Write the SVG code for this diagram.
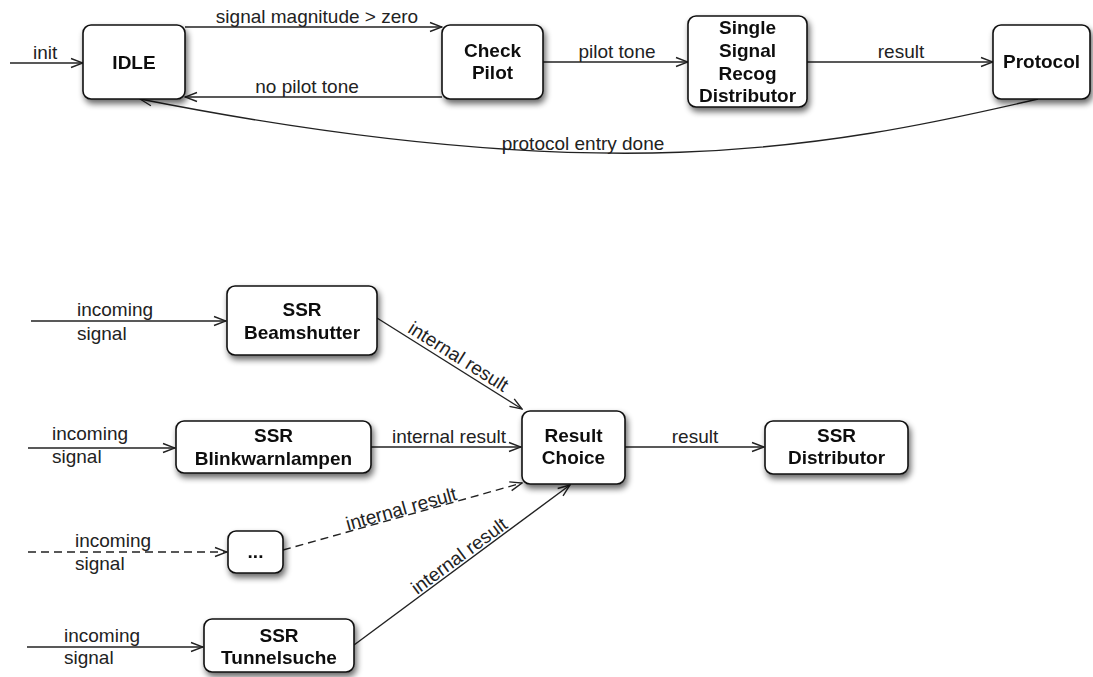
<svg xmlns="http://www.w3.org/2000/svg" width="1093" height="677" viewBox="0 0 1093 677">
<defs>
<filter id="sh" x="-20%" y="-20%" width="150%" height="160%">
<feGaussianBlur in="SourceAlpha" stdDeviation="3"/>
<feOffset dx="2" dy="4" result="b"/>
<feComponentTransfer><feFuncA type="linear" slope="0.6"/></feComponentTransfer>
<feMerge><feMergeNode/><feMergeNode in="SourceGraphic"/></feMerge>
</filter>
<marker id="arr" markerUnits="userSpaceOnUse" markerWidth="14" markerHeight="12" viewBox="0 0 14 12" refX="13" refY="6" orient="auto">
<path d="M1,1.5 L13,6 L1,10.5" fill="none" stroke="#222" stroke-width="1.4"/>
</marker>
<style>
.box{fill:#fff;stroke:#111;stroke-width:1.6}
.nt{font-family:"Liberation Sans",Arial,sans-serif;font-size:19px;font-weight:bold;fill:#111;text-anchor:middle}
.lb{font-family:"Liberation Sans",Arial,sans-serif;font-size:19px;fill:#222}
.c{fill:none;stroke:#222;stroke-width:1.4;marker-end:url(#arr)}
.d{stroke-dasharray:8,5}
</style>
</defs>
<g id="connectors">
<path class="c" d="M10,63 L83,63"/>
<text class="lb" x="33" y="59">init</text>
<path class="c" d="M185,27 L442,27"/>
<text class="lb" x="317" y="23" text-anchor="middle">signal magnitude &gt; zero</text>
<path class="c" d="M442,97 L185,97"/>
<text class="lb" x="307" y="93" text-anchor="middle">no pilot tone</text>
<path class="c" d="M543,62 L688,62"/>
<text class="lb" x="617" y="58" text-anchor="middle">pilot tone</text>
<path class="c" d="M807,62 L993,62"/>
<text class="lb" x="901" y="58" text-anchor="middle">result</text>
<path class="c" d="M1038,99 C820,150 600,190 140,99"/>
<text class="lb" x="583" y="150" text-anchor="middle">protocol entry done</text>

<path class="c" d="M31,321 L226,321"/>
<text class="lb" x="77" y="316">incoming</text>
<text class="lb" x="77" y="340">signal</text>
<path class="c" d="M28,448 L175,448"/>
<text class="lb" x="52" y="440">incoming</text>
<text class="lb" x="52" y="463">signal</text>
<path class="c d" d="M28,552 L227,552"/>
<text class="lb" x="75" y="547">incoming</text>
<text class="lb" x="75" y="570">signal</text>
<path class="c" d="M27,647 L203,647"/>
<text class="lb" x="64" y="642">incoming</text>
<text class="lb" x="64" y="664">signal</text>

<path class="c" d="M377,318 L522,409"/>
<text class="lb" text-anchor="middle" transform="translate(455,362) rotate(32.1)">internal result</text>
<path class="c" d="M371,447 L521,447"/>
<text class="lb" x="449" y="443" text-anchor="middle">internal result</text>
<path class="c d" d="M283,550 L522,483"/>
<text class="lb" text-anchor="middle" transform="translate(403,515) rotate(-15.7)">internal result</text>
<path class="c" d="M354,645 L570,485"/>
<text class="lb" text-anchor="middle" transform="translate(463,561) rotate(-36.5)">internal result</text>
<path class="c" d="M625,447 L764,447"/>
<text class="lb" x="695" y="443" text-anchor="middle">result</text>
</g>
<g id="idle" filter="url(#sh)"><rect class="box" x="83" y="25" width="102" height="74" rx="8"/><text class="nt" x="134" y="69">IDLE</text></g>
<g id="checkpilot" filter="url(#sh)"><rect class="box" x="442" y="25" width="101" height="74" rx="8"/><text class="nt" x="492.5" y="57">Check</text><text class="nt" x="492.5" y="79">Pilot</text></g>
<g id="ssrd" filter="url(#sh)"><rect class="box" x="688" y="16" width="119" height="91" rx="8"/><text class="nt" x="747.5" y="34">Single</text><text class="nt" x="747.5" y="57">Signal</text><text class="nt" x="747.5" y="80">Recog</text><text class="nt" x="747.5" y="102">Distributor</text></g>
<g id="protocol" filter="url(#sh)"><rect class="box" x="993" y="25" width="97" height="74" rx="8"/><text class="nt" x="1041.5" y="68">Protocol</text></g>
<g id="beamshutter" filter="url(#sh)"><rect class="box" x="227" y="286" width="150" height="69" rx="8"/><text class="nt" x="302" y="316">SSR</text><text class="nt" x="302" y="339">Beamshutter</text></g>
<g id="blink" filter="url(#sh)"><rect class="box" x="176" y="421" width="195" height="52" rx="8"/><text class="nt" x="273.5" y="442">SSR</text><text class="nt" x="273.5" y="465">Blinkwarnlampen</text></g>
<g id="dots" filter="url(#sh)"><rect class="box" x="228" y="531" width="55" height="42" rx="8"/><text class="nt" x="255.5" y="558">...</text></g>
<g id="tunnel" filter="url(#sh)"><rect class="box" x="204" y="619" width="150" height="53" rx="8"/><text class="nt" x="279" y="642">SSR</text><text class="nt" x="279" y="664">Tunnelsuche</text></g>
<g id="resultchoice" filter="url(#sh)"><rect class="box" x="522" y="411" width="103" height="73" rx="8"/><text class="nt" x="573.5" y="442">Result</text><text class="nt" x="573.5" y="464">Choice</text></g>
<g id="ssrdist" filter="url(#sh)"><rect class="box" x="765" y="421" width="143" height="53" rx="8"/><text class="nt" x="836.5" y="442">SSR</text><text class="nt" x="836.5" y="464">Distributor</text></g>
</svg>
